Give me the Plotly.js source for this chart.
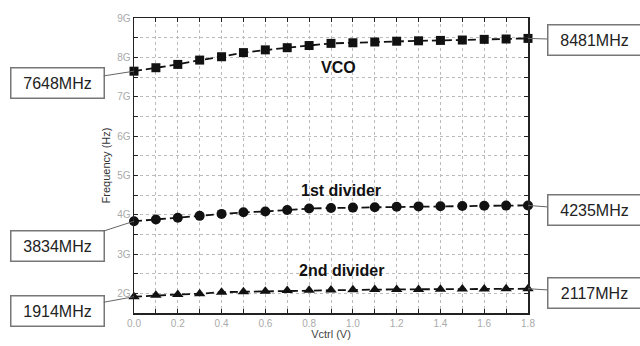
<!DOCTYPE html>
<html><head><meta charset="utf-8">
<script src="https://cdn.plot.ly/plotly-3.0.1.min.js"></script>
<style>html,body{margin:0;padding:0;background:#fff}#c{width:640px;height:346px}</style>
</head><body><div id="c"></div>
<script>
const vctrl = [0,0.1,0.2,0.3,0.4,0.5,0.6,0.7,0.8,0.9,1.0,1.1,1.2,1.3,1.4,1.5,1.6,1.7,1.8];
const vco = [7.648,7.736,7.82,7.93,8.015,8.12,8.19,8.245,8.30,8.355,8.37,8.39,8.41,8.42,8.43,8.44,8.457,8.466,8.481];
const div1 = [3.834,3.877,3.92,3.97,4.02,4.06,4.08,4.12,4.155,4.17,4.18,4.19,4.20,4.21,4.215,4.22,4.225,4.23,4.235];
const div2 = [1.914,1.95,1.97,1.99,2.03,2.04,2.05,2.07,2.08,2.085,2.09,2.095,2.10,2.10,2.105,2.11,2.11,2.115,2.117];
const seriesNames = ["VCO","1st divider","2nd divider"];
const calloutText = ["7648MHz","8481MHz","3834MHz","4235MHz","1914MHz","2117MHz"];

function tr(y, sym, name, sz){
  return {x: vctrl, y: y, type:'scatter', mode:'lines+markers', name: name,
    line:{color:'#111', width:1.8, dash:'8px,4px'},
    marker:{symbol:sym, size:sz, color:'#111'}, cliponaxis:false};
}
const data = [tr(vco,'square',seriesNames[0],9), tr(div1,'circle',seriesNames[1],10), tr(div2,'triangle-up',seriesNames[2],10)];

const series = [vco, div1, div2];
const ann = [];
const calloutOff = [[-77,12],[66,2],[-77,25],[66,5],[-77,14],[66,4]];
for (let s=0;s<3;s++){
  for (let e=0;e<2;e++){
    const idx = e===0 ? 0 : vctrl.length-1;
    const k = s*2+e;
    ann.push({x: vctrl[idx], y: series[s][idx], xref:'x', yref:'y', text: calloutText[k],
      showarrow:true, arrowhead:0, arrowwidth:1, arrowcolor:'#666',
      ax: calloutOff[k][0], ay: calloutOff[k][1], standoff:0,
      bordercolor:'#777', borderwidth:1.5, borderpad:2, bgcolor:'#fff',
      width:88, height:25, font:{family:'Liberation Sans, Arial', size:16, color:'#222'}});
  }
}
const labelPos = [[0.936,7.75],[0.946,4.62],[0.95,2.59]];
for (let s=0;s<3;s++){
  ann.push({x:labelPos[s][0], y:labelPos[s][1], xref:'x', yref:'y', text:'<b>'+seriesNames[s]+'</b>',
    showarrow:false, font:{family:'Liberation Sans, Arial', size:16, color:'#111'}});
}

const layout = {
  width:640, height:346,
  margin:{l:134, r:112, t:18, b:33},
  paper_bgcolor:'#fff', plot_bgcolor:'#fff',
  showlegend:false,
  font:{family:'Liberation Sans, Arial', color:'#999'},
  xaxis:{range:[0,1.8], dtick:0.2, tick0:0, tickformat:'.1f',
    showline:true, linecolor:'#222', linewidth:1.5, mirror:'allticks',
    ticks:'inside', ticklen:4, tickcolor:'#222',
    showgrid:true, gridcolor:'#bbb', griddash:'dot', gridwidth:1,
    zeroline:false,
    minor:{dtick:0.1, showgrid:true, gridcolor:'#bbb', griddash:'dot', ticks:'inside', ticklen:4, tickcolor:'#222'},
    tickfont:{size:10, color:'#aaa'},
    title:{text:'Vctrl (V)', font:{size:11, color:'#444'}, standoff:3}},
  yaxis:{range:[1.5,9], dtick:1, tick0:2, ticksuffix:'G',
    showline:true, linecolor:'#222', linewidth:1.5, mirror:'allticks',
    ticks:'inside', ticklen:4, tickcolor:'#222',
    showgrid:true, gridcolor:'#bbb', griddash:'dot', gridwidth:1,
    zeroline:false,
    minor:{dtick:0.5, showgrid:true, gridcolor:'#bbb', griddash:'dot', ticks:'inside', ticklen:4, tickcolor:'#222'},
    tickfont:{size:10, color:'#aaa'},
    title:{text:'Frequency (Hz)', font:{size:11, color:'#333'}, standoff:4}},
  annotations: ann
};
Plotly.newPlot('c', data, layout, {displayModeBar:false, staticPlot:true});
</script></body></html>
